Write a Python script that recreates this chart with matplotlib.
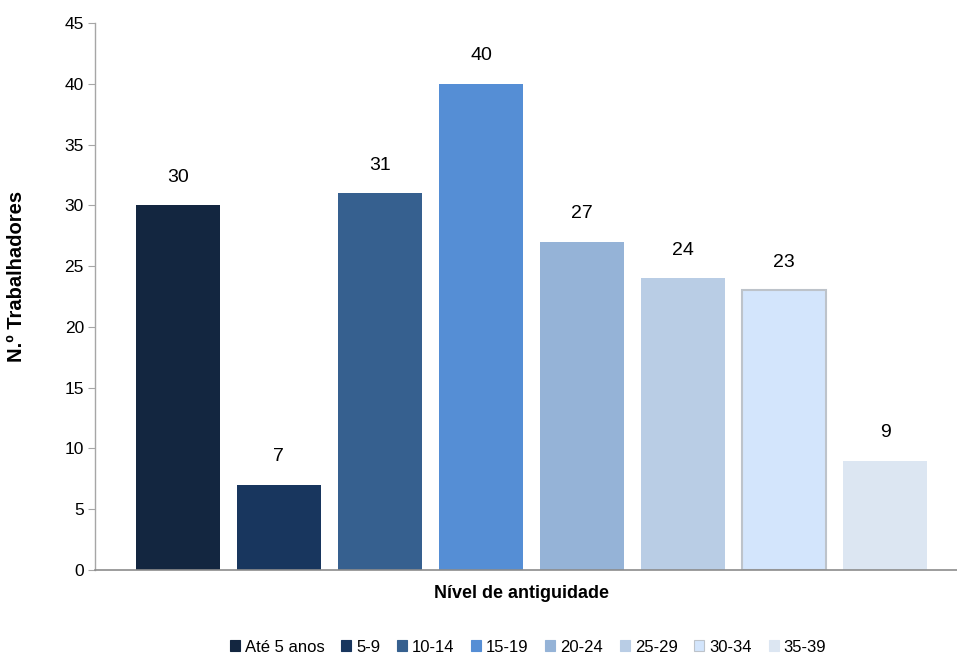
import matplotlib
matplotlib.use("Agg")
import matplotlib.pyplot as plt
from matplotlib import font_manager as fm
from matplotlib.patches import Patch

names = {f.name for f in fm.fontManager.ttflist}
narrow = "Liberation Sans Narrow" if "Liberation Sans Narrow" in names else "Liberation Sans"

categories = ["Até 5 anos", "5-9", "10-14", "15-19", "20-24", "25-29", "30-34", "35-39"]
values = [30, 7, 31, 40, 27, 24, 23, 9]
colors = ["#132640", "#18365E", "#36608F", "#558ED5", "#95B3D7", "#B9CDE5", "#D3E5FC", "#DCE6F2"]
edges = [None, None, None, None, None, None, "#BDC3CA", None]
yticks = [0, 5, 10, 15, 20, 25, 30, 35, 40, 45]

fig = plt.figure(figsize=(9.57, 6.55), dpi=100)
W, H = 957, 655
ax = fig.add_axes([95 / W, (H - 570) / H, (968 - 95) / W, (570 - 23) / H])

for i, (v, c, e) in enumerate(zip(values, colors, edges)):
    ax.bar(i, v, width=0.83, color=c, edgecolor=e if e else c,
           linewidth=1.5 if e else 0, label=categories[i], zorder=2)
    ax.text(i, v + 2.3, str(v), ha="center", va="center",
            fontsize=14, family=narrow, color="#000000")

ax.set_xlim(-0.82, len(values) - 1 + 0.82)
ax.set_ylim(0, 45)
ax.set_yticks(yticks)
ax.set_yticklabels([str(t) for t in yticks], fontsize=12.5, family=narrow)
ax.set_xticks([])
for s in ["top", "right"]:
    ax.spines[s].set_visible(False)
ax.spines["left"].set_color("#A6A6A6")
ax.spines["bottom"].set_color("#8C8C8C")
ax.spines["left"].set_linewidth(1.0)
ax.spines["bottom"].set_linewidth(1.2)
ax.tick_params(axis="y", length=5, color="#A6A6A6", pad=3)

fig.text(17 / W, 1 - 276 / H, "N.º Trabalhadores", rotation=90, ha="center", va="center",
         fontsize=14.5, fontweight="bold", family="Liberation Sans")
fig.text(521 / W, 1 - 593 / H, "Nível de antiguidade", ha="center", va="center",
         fontsize=13, fontweight="bold", family="Liberation Sans")

handles = [Patch(facecolor=c, edgecolor=(e if e else c), linewidth=0.8)
           for c, e in zip(colors, edges)]
fig.legend(handles, categories, loc="center", bbox_to_anchor=(528 / W, 1 - 647 / H),
           ncol=8, frameon=False, handlelength=0.6, handleheight=0.6,
           handletextpad=0.3, columnspacing=1.0, prop={"family": narrow, "size": 12})

fig.savefig("out.png", dpi=100)
